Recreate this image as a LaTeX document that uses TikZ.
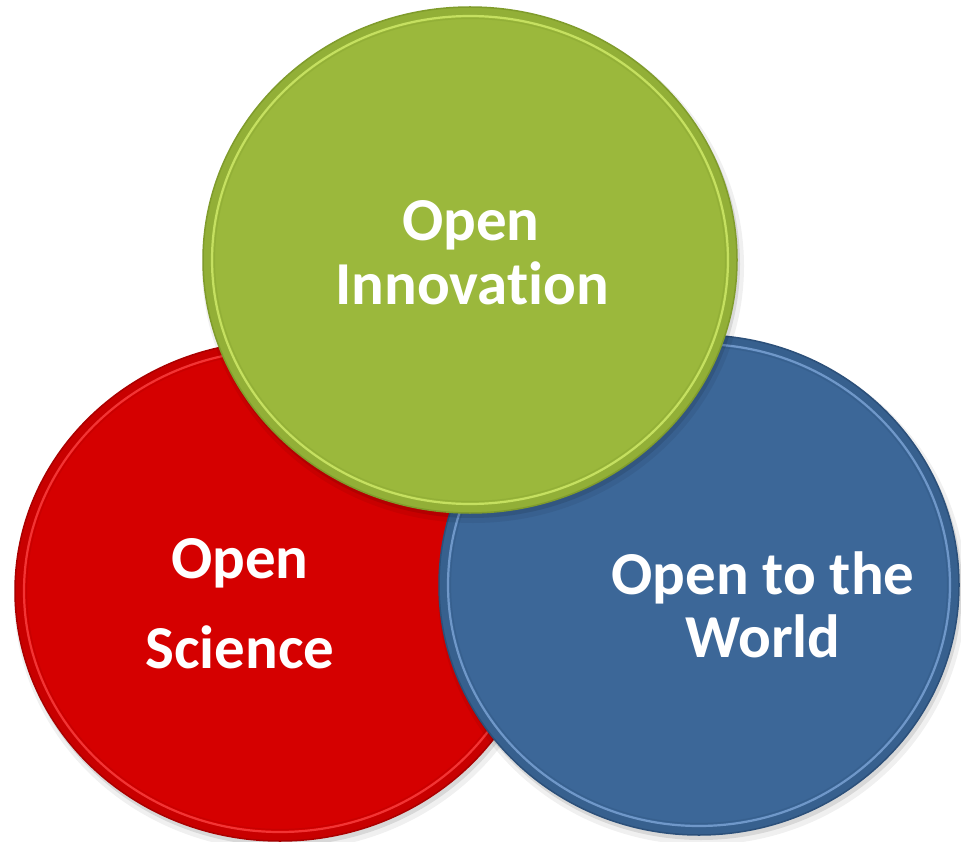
\documentclass[tikz,border=0pt]{standalone}
\usepackage{fontspec}
\setmainfont[Ligatures={NoCommon,NoRequired,NoContextual,NoDiscretionary}]{Carlito}
\definecolor{grn}{RGB}{155,184,60}
\definecolor{grnd}{RGB}{128,156,44}
\definecolor{grnl}{RGB}{214,240,110}
\definecolor{rd}{RGB}{213,0,0}
\definecolor{rdd}{RGB}{170,0,0}
\definecolor{rdl}{RGB}{255,70,70}
\definecolor{bl}{RGB}{60,103,152}
\definecolor{bld}{RGB}{44,80,122}
\definecolor{bll}{RGB}{130,170,220}
\tikzset{
  lbl/.style={anchor=base, text=white, font=\fontsize{61}{61}\selectfont\bfseries, inner sep=0pt},
}
\newcommand{\disc}[6]{%
  % #1 cx, #2 cy, #3 rx, #4 ry, #5 base, #6 dark/light prefix
  \fill[black, opacity=0.06] (#1+3,#2+6) ellipse [x radius=#3+4, y radius=#4+4];
  \fill[black, opacity=0.10] (#1+2,#2+4) ellipse [x radius=#3+1, y radius=#4+1];
  \fill[#5] (#1,#2) ellipse [x radius=#3, y radius=#4];
  \fill[#6d, opacity=0.3, even odd rule] (#1,#2) ellipse [x radius=#3, y radius=#4]
        (#1,#2) ellipse [x radius=#3-9, y radius=#4-9];
  \draw[#6d, line width=1.5] (#1,#2) ellipse [x radius=#3, y radius=#4];
  \draw[#6l, line width=2.2, opacity=0.75] (#1,#2) ellipse [x radius=#3-9, y radius=#4-9];
  \draw[#6d, line width=1.2, opacity=0.3] (#1,#2) ellipse [x radius=#3-11.5, y radius=#4-11.5];
}
\begin{document}
\begin{tikzpicture}[x=1pt,y=-1pt]
\useasboundingbox (0,0) rectangle (961,842);
% red
\disc{280}{591}{265}{250}{rd}{rd}
% blue
\disc{699}{585}{260}{250}{bl}{bl}
% green
\disc{470}{260}{267}{253}{grn}{grn}
\node[lbl] (gi1) at (471,241) {Open};
\node[lbl] (gi2) at (472,305) {Innovation};
\node[lbl] (rs1) at (240,578) {Open};
\node[lbl] (rs2) at (240,668) {Science};
\node[lbl] (bw1) at (763,594) {Open to the};
\node[lbl] (bw2) at (763,657) {World};
\end{tikzpicture}
\end{document}
